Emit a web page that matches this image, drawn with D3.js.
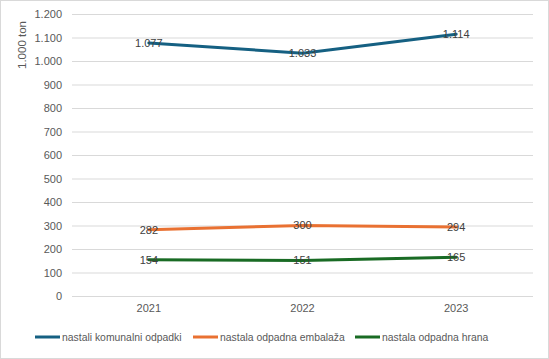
<!DOCTYPE html>
<html><head><meta charset="utf-8">
<script src="https://cdn.jsdelivr.net/npm/d3@7"></script>
<style>body{margin:0;background:#fff}svg{display:block}</style>
</head><body>
<script>
const years = ["2021","2022","2023"];
const komunalni = [1077, 1033, 1114];
const embalaza = [282, 300, 294];
const hrana = [154, 151, 165];
const seriesNames = ["nastali komunalni odpadki","nastala odpadna embalaža","nastala odpadna hrana"];
const yTicks = [0,100,200,300,400,500,600,700,800,900,1000,1100,1200];
const colors = ["#156082","#E97132","#196B24"];
const series = [komunalni, embalaza, hrana];

(function(){
const W=549,H=359;
const svg=d3.select("body").append("svg").attr("width",W).attr("height",H);
svg.append("rect").attr("x",0.5).attr("y",0.5).attr("width",W-1).attr("height",H-1).attr("fill","#fff").attr("stroke","#d9d9d9");
const mL=72,mR=533,mT=14,mB=296;
const x=d3.scaleBand().domain(years).range([mL,mR]);
const y=d3.scaleLinear().domain([0,1200]).range([mB,mT]);
const fmt=d=>d3.format(",")(d).replace(/,/g,".");
const FF="Liberation Sans, Arial, sans-serif";

const ya=svg.append("g").attr("transform",`translate(${mL},0)`)
 .call(d3.axisLeft(y).tickValues(yTicks).tickSize(-(mR-mL)).tickPadding(10).tickFormat(fmt));
ya.select(".domain").remove();
ya.selectAll("line").attr("stroke","#d9d9d9");
ya.selectAll("text").attr("fill","#595959").style("font-family",FF).style("font-size","11px");

const xa=svg.append("g").attr("transform",`translate(0,${mB})`).call(d3.axisBottom(x).tickSize(0).tickPadding(8));
xa.select(".domain").remove();
xa.selectAll("text").attr("fill","#595959").style("font-family",FF).style("font-size","11px");

svg.append("text").attr("transform",`translate(26,45) rotate(-90)`).attr("text-anchor","middle")
 .attr("fill","#595959").style("font-family",FF).style("font-size","11.5px").text("1.000 ton");

const line=d3.line().x((d,i)=>x(years[i])+x.bandwidth()/2).y(d=>y(d));
series.forEach((s,k)=>{
  svg.append("path").datum(s).attr("d",line).attr("fill","none").attr("stroke",colors[k]).attr("stroke-width",3).attr("stroke-linecap","round");
});
series.forEach((s,k)=>{
  svg.selectAll(null).data(s).enter().append("text")
   .attr("x",(d,i)=>x(years[i])+x.bandwidth()/2).attr("y",d=>y(d)).attr("dy","0.35em")
   .attr("text-anchor","middle").attr("fill","#404040")
   .style("font-family",FF).style("font-size","11px").text(fmt);
});

const lg=svg.append("g").attr("transform","translate(0,337)");
const lx=[35,193,355];
seriesNames.forEach((n,k)=>{
  lg.append("line").attr("x1",lx[k]).attr("x2",lx[k]+25).attr("y1",0).attr("y2",0).attr("stroke",colors[k]).attr("stroke-width",3);
  lg.append("text").attr("x",lx[k]+27).attr("y",0).attr("dy","0.35em").attr("fill","#595959")
   .style("font-family",FF).style("font-size","10.4px").text(n);
});
})();
</script>
</body></html>
